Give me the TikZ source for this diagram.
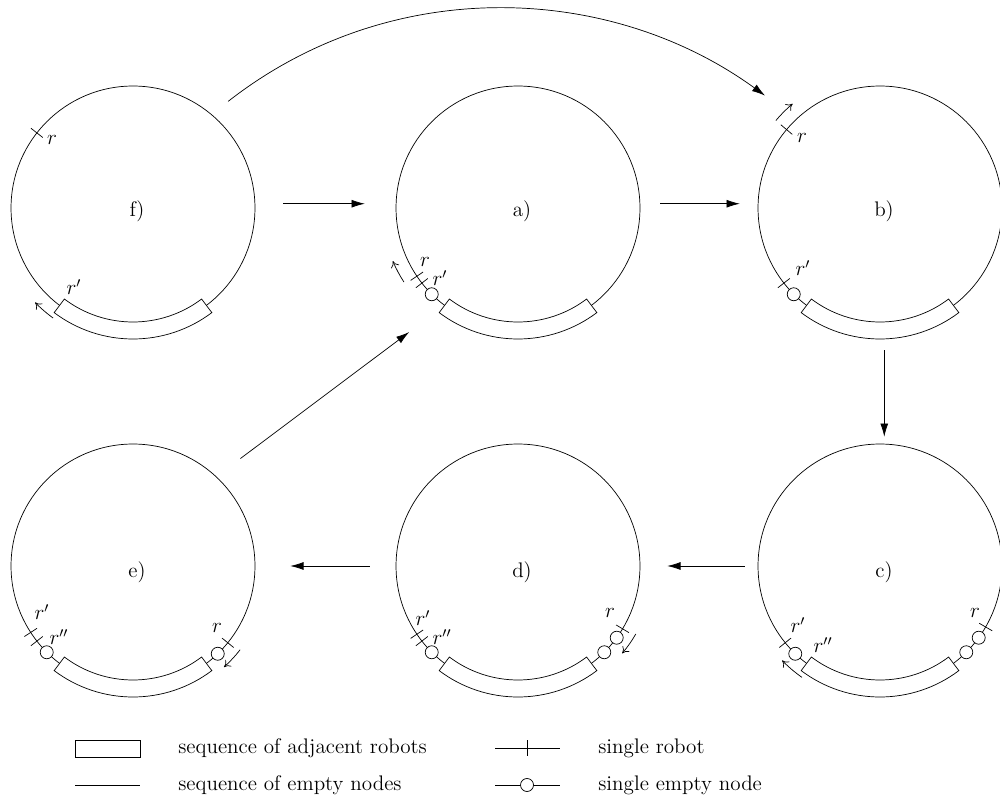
\documentclass[tikz,border=0pt]{standalone}
\usetikzlibrary{calc,arrows.meta}

\tikzset{
  ring/.style={draw, circle, minimum size=4.88cm, inner sep=0pt},
  flow/.style={-{Latex[length=7.5pt,width=4.5pt]}},
  move/.style={-{To[length=3.5pt,width=5pt]}},
  legtext/.style={anchor=west, inner sep=0pt},
}
% one robot, one empty node, the block of robots, a move
\newcommand{\robotat}[2]{\draw ($(#1)+(#2:114.5)$) -- ($(#1)+(#2:129.5)$);}
\newcommand{\emptyat}[2]{\draw[fill=white] ($(#1)+(#2:122)$) circle[radius=6.5];}
\newcommand{\blockat}[1]{\draw[fill=white] ($(#1)+(233:114)$) arc[start angle=233,end angle=307,radius=114]
  -- ($(#1)+(307:131)$) arc[start angle=307,end angle=233,radius=131] -- cycle;}
\newcommand{\moveat}[3]{\draw[move] ($(#1)+(#2:136)$) arc[start angle=#2,end angle=#3,radius=136];}

\begin{document}
\begin{tikzpicture}[x=0.02cm, y=0.02cm, font=\large]
  \useasboundingbox (0,0) rectangle (1000,807);

  % the six configurations
  \node[ring] (f) at (133,599) {};
  \node[ring] (a) at (518,599) {};
  \node[ring] (b) at (880,599) {};
  \node[ring] (e) at (133,241) {};
  \node[ring] (d) at (518,241) {};
  \node[ring] (c) at (880,241) {};
  \node (fname) at ($(f)+(4,-3)$) {f)};
  \node (aname) at ($(a)+(4,-3)$) {a)};
  \node (bname) at ($(b)+(4,-3)$) {b)};
  \node (ename) at ($(e)+(4,-6)$) {e)};
  \node (dname) at ($(d)+(4,-6)$) {d)};
  \node (cname) at ($(c)+(4,-6)$) {c)};

  % f)
  \blockat{f}
  \robotat{f}{142}
  \moveat{f}{234}{224}
  \node (fr) at ($(f)+(-81,68)$) {$r$};
  \node (fr1) at ($(f)+(-59,-79)$) {$r'$};

  % a)
  \blockat{a}
  \robotat{a}{214}
  \robotat{a}{218}
  \emptyat{a}{225}
  \moveat{a}{213}{203}
  \node (ar) at ($(a)+(-93,-54)$) {$r$};
  \node (ar1) at ($(a)+(-78,-70)$) {$r'$};

  % b)
  \blockat{b}
  \robotat{b}{140}
  \robotat{b}{218}
  \emptyat{b}{225}
  \moveat{b}{140}{130}
  \node (br) at ($(b)+(-78,70)$) {$r$};
  \node (br1) at ($(b)+(-77,-60)$) {$r'$};

  % c)
  \blockat{c}
  \robotat{c}{219}
  \emptyat{c}{226}
  \emptyat{c}{315}
  \emptyat{c}{324}
  \robotat{c}{330}
  \moveat{c}{235}{224}
  \node (cr1) at ($(c)+(-82,-59)$) {$r'$};
  \node (cr2) at ($(c)+(-57,-79)$) {$r''$};
  \node (cr) at ($(c)+(95,-47)$) {$r$};

  % d)
  \blockat{d}
  \robotat{d}{214}
  \robotat{d}{218}
  \emptyat{d}{225}
  \emptyat{d}{315}
  \emptyat{d}{324}
  \robotat{d}{329}
  \moveat{d}{330}{320}
  \node (dr1) at ($(d)+(-95,-52)$) {$r'$};
  \node (dr2) at ($(d)+(-76,-71)$) {$r''$};
  \node (dr) at ($(d)+(92,-47)$) {$r$};

  % e)
  \blockat{e}
  \robotat{e}{213}
  \robotat{e}{218}
  \emptyat{e}{225}
  \emptyat{e}{314}
  \robotat{e}{321}
  \moveat{e}{322}{312}
  \node (er1) at ($(e)+(-91,-46)$) {$r'$};
  \node (er2) at ($(e)+(-74,-71)$) {$r''$};
  \node (er) at ($(e)+(84,-62)$) {$r$};

  % transitions
  \draw[flow, shorten <=0.56cm, shorten >=0.62cm] (f.2) -- (a.178);
  \draw[flow, shorten <=0.4cm, shorten >=0.36cm] (a.2) -- (b.178);
  \draw[flow, shorten <=0.4cm, shorten >=0.14cm] (b.272) -- (c.88);
  \draw[flow, shorten <=0.26cm, shorten >=0.54cm] (c.west) -- (d.east);
  \draw[flow, shorten <=0.52cm, shorten >=0.7cm] (d.west) -- (e.east);
  \draw[flow, shorten <=0.6cm, shorten >=0.88cm] (e.47) -- (a.233);
  \draw[flow, shorten <=0.42cm, shorten >=0.78cm] (f.50) to[out=38, in=144] (b.133);

  % legend
  \node[draw, minimum width=1.3cm, minimum height=0.34cm, inner sep=0pt] (lgblock) at (107.5,58.5) {};
  \node[legtext] (lgblocktxt) at (178,59) {sequence of adjacent robots};
  \draw (75,22) -- (140,22);
  \node[legtext] (lglinetxt) at (178,22) {sequence of empty nodes};
  \draw (495,59) -- (560,59) (527,51) -- (527,67);
  \node[legtext] (lgrobottxt) at (598,59) {single robot};
  \draw (495,22) -- (560,22);
  \draw[fill=white] (527,22) circle[radius=6.5];
  \node[legtext] (lgemptytxt) at (598,22) {single empty node};
\end{tikzpicture}
\end{document}
